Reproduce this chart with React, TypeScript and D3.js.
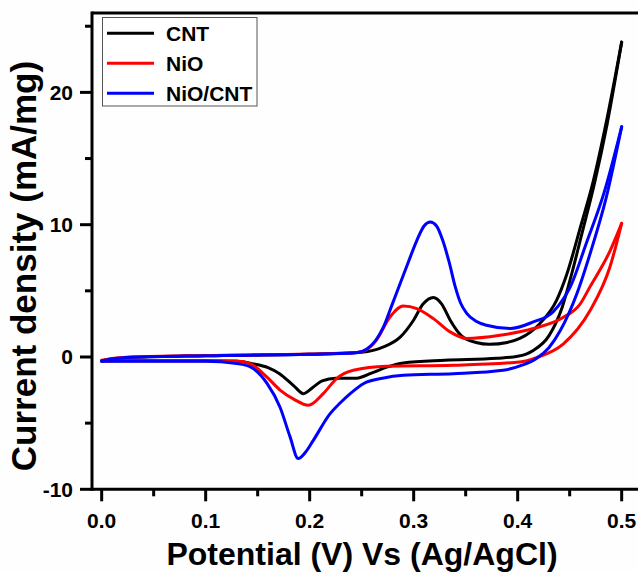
import React from "react";
import * as d3 from "d3";

// ---------- data ----------
const SERIES_NAMES = ["CNT", "NiO", "NiO/CNT"];
const SERIES_COLORS = ["#000000", "#ff0000", "#0000ff"];

// anodic (forward) branches, potential V vs current density mA/mg
const CNT_ANODIC: [number, number][] = [
  [0.0, -0.3], [0.01, -0.15], [0.03, -0.02], [0.1, 0.1], [0.2, 0.2], [0.25, 0.36],
  [0.271, 0.76], [0.287, 1.5], [0.3, 2.8], [0.309, 4.0], [0.319, 4.5], [0.327, 4.0],
  [0.335, 2.8], [0.346, 1.6], [0.36, 1.1], [0.373, 0.96], [0.39, 1.1], [0.402, 1.4],
  [0.421, 2.5], [0.4375, 4.3], [0.447, 6.2], [0.461, 10.0], [0.4727, 13.3],
  [0.4856, 17.9], [0.5, 23.8],
];
const CNT_CATHODIC: [number, number][] = [
  [0.0, -0.3], [0.05, -0.28], [0.1, -0.28], [0.13, -0.32], [0.145, -0.5], [0.16, -0.8],
  [0.171, -1.26], [0.185, -2.2], [0.194, -2.77], [0.203, -2.3], [0.212, -1.8],
  [0.225, -1.6], [0.245, -1.6], [0.26, -1.2], [0.275, -0.75], [0.29, -0.45],
  [0.33, -0.25], [0.38, -0.1], [0.4, 0.05], [0.415, 0.5], [0.43, 1.6], [0.443, 3.8],
  [0.452, 6.3], [0.462, 9.4], [0.4735, 13.0], [0.486, 17.6], [0.5, 23.8],
];
const NIO_ANODIC: [number, number][] = [
  [0.0, -0.25], [0.01, -0.12], [0.03, 0.0], [0.1, 0.12], [0.2, 0.22], [0.245, 0.34],
  [0.252, 0.45], [0.264, 1.26], [0.277, 3.0], [0.29, 3.85], [0.303, 3.66], [0.319, 2.9],
  [0.335, 1.9], [0.351, 1.4], [0.383, 1.64], [0.415, 2.15], [0.444, 3.0], [0.46, 4.0],
  [0.4695, 5.3], [0.4887, 8.0], [0.5, 10.1],
];
const NIO_CATHODIC: [number, number][] = [
  [0.0, -0.28], [0.1, -0.28], [0.13, -0.3], [0.1426, -0.5], [0.1587, -1.5],
  [0.1715, -2.5], [0.185, -3.2], [0.1987, -3.65], [0.213, -2.77], [0.2259, -1.63],
  [0.242, -1.0], [0.274, -0.7], [0.338, -0.63], [0.402, -0.38], [0.418, -0.05],
  [0.444, 1.0], [0.4695, 3.5], [0.4887, 6.8], [0.5, 10.1],
];
const NIOCNT_ANODIC: [number, number][] = [
  [0.0, -0.3], [0.01, -0.15], [0.03, -0.02], [0.1, 0.1], [0.2, 0.2], [0.245, 0.32],
  [0.255, 0.6], [0.263, 1.2], [0.271, 2.27], [0.279, 3.9], [0.287, 5.55], [0.295, 7.2],
  [0.303, 8.8], [0.31, 9.9], [0.316, 10.2], [0.322, 9.9], [0.328, 8.8], [0.334, 7.2],
  [0.34, 5.3], [0.345, 4.1], [0.351, 3.3], [0.36, 2.7], [0.37, 2.4], [0.393, 2.15],
  [0.415, 2.65], [0.434, 3.4], [0.444, 4.4], [0.45, 5.2], [0.466, 8.6], [0.483, 12.4],
  [0.5, 17.4],
];
const NIOCNT_CATHODIC: [number, number][] = [
  [0.0, -0.32], [0.1, -0.32], [0.13, -0.5], [0.143, -0.75], [0.159, -2.0],
  [0.1715, -3.8], [0.181, -6.0], [0.189, -7.68], [0.196, -7.2], [0.2035, -6.3],
  [0.2195, -4.3], [0.229, -3.5], [0.239, -2.77], [0.252, -2.0], [0.27, -1.6],
  [0.29, -1.38], [0.338, -1.26], [0.386, -1.0], [0.405, -0.6], [0.418, -0.12],
  [0.43, 0.7], [0.441, 2.0], [0.457, 4.8], [0.47, 7.9], [0.485, 12.0], [0.5, 17.4],
];

const SERIES_BRANCHES = [
  [CNT_ANODIC, CNT_CATHODIC],
  [NIO_ANODIC, NIO_CATHODIC],
  [NIOCNT_ANODIC, NIOCNT_CATHODIC],
];

const X_MAJOR = [0, 0.1, 0.2, 0.3, 0.4, 0.5];
const X_LABELS = ["0.0", "0.1", "0.2", "0.3", "0.4", "0.5"];
const X_MINOR = [0.05, 0.15, 0.25, 0.35, 0.45];
const Y_MAJOR = [-10, 0, 10, 20];
const Y_LABELS = ["-10", "0", "10", "20"];
const Y_MINOR = [-5, 5, 15, 25];

const X_TITLE = "Potential (V) Vs (Ag/AgCl)";
const Y_TITLE = "Current density (mA/mg)";

// ---------- layout ----------
const W = 638;
const H = 572;
const X_MIN = -0.0093;
const X_MAX = 0.53;
const Y_MIN = -10;
const Y_MAX = 26;
const PLOT_LEFT = 92;
const PX_PER_V = 1040;
const PLOT_TOP = 13;
const PLOT_BOTTOM = 489.3;
const FONT = "'Liberation Sans', Arial, Helvetica, sans-serif";

export default function App() {
  const x = d3
    .scaleLinear()
    .domain([X_MIN, X_MAX])
    .range([PLOT_LEFT, PLOT_LEFT + (X_MAX - X_MIN) * PX_PER_V]);
  const y = d3.scaleLinear().domain([Y_MIN, Y_MAX]).range([PLOT_BOTTOM, PLOT_TOP]);

  const line = d3
    .line<[number, number]>()
    .x((d) => x(d[0]))
    .y((d) => y(d[1]))
    .curve(d3.curveMonotoneX);

  const xL = x(X_MIN);
  const xR = W + 10;

  return (
    <svg
      width={W}
      height={H}
      style={{ position: "absolute", left: 0, top: 0, background: "#fff" }}
      fontFamily={FONT}
    >
      <rect x={0} y={0} width={W} height={H} fill="#fefefe" />

      {/* curves */}
      <g fill="none" strokeWidth={3} strokeLinejoin="round" strokeLinecap="round">
        {SERIES_BRANCHES.map((branches, i) =>
          branches.map((b, j) => (
            <path key={`${i}-${j}`} d={line(b) || ""} stroke={SERIES_COLORS[i]} />
          ))
        )}
      </g>

      {/* frame */}
      <line x1={xL} x2={xR} y1={y(Y_MAX)} y2={y(Y_MAX)} stroke="#000" strokeWidth={3} />
      <line x1={xL} x2={xR} y1={y(Y_MIN)} y2={y(Y_MIN)} stroke="#000" strokeWidth={3} />
      <line x1={xL} x2={xL} y1={y(Y_MAX) - 1.5} y2={y(Y_MIN) + 1.5} stroke="#000" strokeWidth={3} />

      {/* x ticks */}
      {X_MAJOR.map((v, i) => (
        <g key={`xm${i}`}>
          <line x1={x(v)} x2={x(v)} y1={y(Y_MIN)} y2={y(Y_MIN) + 12} stroke="#000" strokeWidth={3} />
          <text
            x={x(v)}
            y={y(Y_MIN) + 39}
            textAnchor="middle"
            fontSize={21}
            fontWeight="bold"
          >
            {X_LABELS[i]}
          </text>
        </g>
      ))}
      {X_MINOR.map((v, i) => (
        <line key={`xn${i}`} x1={x(v)} x2={x(v)} y1={y(Y_MIN)} y2={y(Y_MIN) + 7} stroke="#000" strokeWidth={3} />
      ))}

      {/* y ticks */}
      {Y_MAJOR.map((v, i) => (
        <g key={`ym${i}`}>
          <line x1={xL - 12} x2={xL} y1={y(v)} y2={y(v)} stroke="#000" strokeWidth={3} />
          <text
            x={xL - 19}
            y={y(v) + 7.5}
            textAnchor="end"
            fontSize={21}
            fontWeight="bold"
          >
            {Y_LABELS[i]}
          </text>
        </g>
      ))}
      {Y_MINOR.map((v, i) => (
        <line key={`yn${i}`} x1={xL - 7} x2={xL} y1={y(v)} y2={y(v)} stroke="#000" strokeWidth={3} />
      ))}

      {/* axis titles */}
      <text x={362} y={565} textAnchor="middle" fontSize={32} fontWeight="bold">
        {X_TITLE}
      </text>
      <text
        transform={`translate(36, ${266}) rotate(-90)`}
        textAnchor="middle"
        fontSize={35}
        fontWeight="bold"
      >
        {Y_TITLE}
      </text>

      {/* legend */}
      <g>
        <rect x={102.5} y={17.5} width={154.5} height={88.5} fill="#fff" stroke="#555" strokeWidth={1} />
        {SERIES_NAMES.map((name, i) => (
          <g key={name}>
            <line
              x1={107}
              x2={154}
              y1={33.3 + i * 30}
              y2={33.3 + i * 30}
              stroke={SERIES_COLORS[i]}
              strokeWidth={3}
            />
            <text x={166} y={33.3 + i * 30 + 8} fontSize={21} fontWeight="bold">
              {name}
            </text>
          </g>
        ))}
      </g>
    </svg>
  );
}
